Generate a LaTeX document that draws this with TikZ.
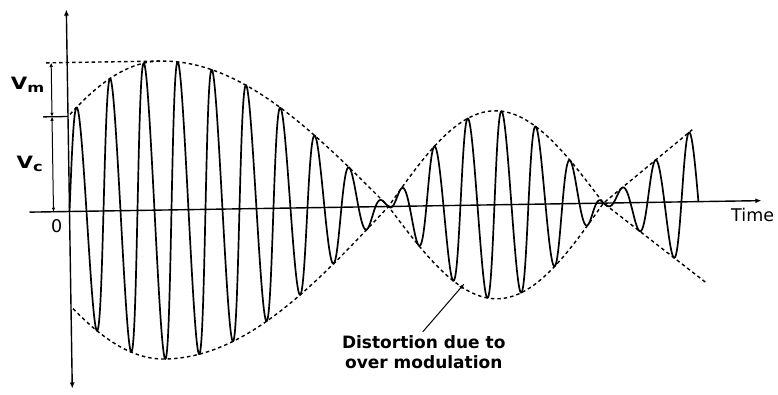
\documentclass[tikz,border=0pt]{standalone}
\usepackage{fontspec}
\setmainfont{DejaVu Sans}
\usetikzlibrary{arrows.meta}

\begin{document}
\begin{tikzpicture}[x=1pt,y=1pt,
  declare function={env(\x)=(\x<93)*149*cos((93-\x)*0.54217)+and(\x>=93,\x<319)*149*cos((\x-93)*0.39823)+and(\x>=319,\x<534)*(-94)*sin((\x-319)*0.83721)+(\x>=534)*0.8*(\x-534);},
  axisline/.style={line width=1.4pt},
  envline/.style={line width=1.4pt, dash pattern=on 3.5pt off 3pt},
  carrier/.style={line width=1.7pt, line join=round},
  dimline/.style={line width=1pt, {Latex[length=4pt,width=3.5pt]}-{Latex[length=4pt,width=3.5pt]}},
  vlabel/.style={font=\bfseries\fontsize{17}{19}\selectfont},
  txt/.style={font=\fontsize{17.5}{20}\selectfont}]
\useasboundingbox (-69.5,-182.5) rectangle (708.5,211.5);
\begin{scope}[rotate=0.9]
\coordinate (xl) at (-40,0);
\coordinate (xr) at (692,0);
\coordinate (yb) at (0,-177);
\coordinate (yt) at (0,202);
\draw[axisline, -{Latex[length=6pt,width=5pt]}] (xl) -- (xr);
\draw[axisline, {Latex[length=6pt,width=5pt]}-{Latex[length=6pt,width=5pt]}] (yb) -- (yt);
\draw[envline] (-21,149) -- (93,149);
\draw[envline] plot[domain=2:624, samples=250] (\x,{env(\x)});
\draw[envline] plot[domain=2:636, samples=250] (\x,{-env(\x)});
\draw[carrier] plot[domain=0:629, samples=1300] (\x,{env(\x)*sin((\x-8.5)*10.588+90)});
\coordinate (vmtop) at (-16,149);
\coordinate (vmbot) at (-16,95);
\coordinate (vcbot) at (-16,0);
\coordinate (tickl) at (-25,95);
\coordinate (tickr) at (0,95);
\draw[dimline] (vmtop) -- (vmbot);
\draw[dimline] (vmbot) -- (vcbot);
\draw[line width=1.3pt] (tickl) -- (tickr);
\node[vlabel] (vm) at (-40,127) {\scalebox{1.25}[1]{V\raisebox{-0.35ex}{\fontsize{13}{13}\selectfont m}}};
\node[vlabel] (vc) at (-39,48) {\scalebox{1.25}[1]{V\raisebox{-0.35ex}{\fontsize{13}{13}\selectfont c}}};
\node[txt] (zero) at (-13,-14) {0};
\node[txt] (timelbl) at (683,-14) {Time};
\node[txt, font=\bfseries\fontsize{17}{20}\selectfont, align=center] (note) at (352,-146) {Distortion due to\\over modulation};
\coordinate (distpt) at (394,-78);
\draw[line width=1pt, -{Latex[length=6pt,width=4pt]}] ([xshift=-1pt]note.north) -- (distpt);
\end{scope}
\end{tikzpicture}
\end{document}
